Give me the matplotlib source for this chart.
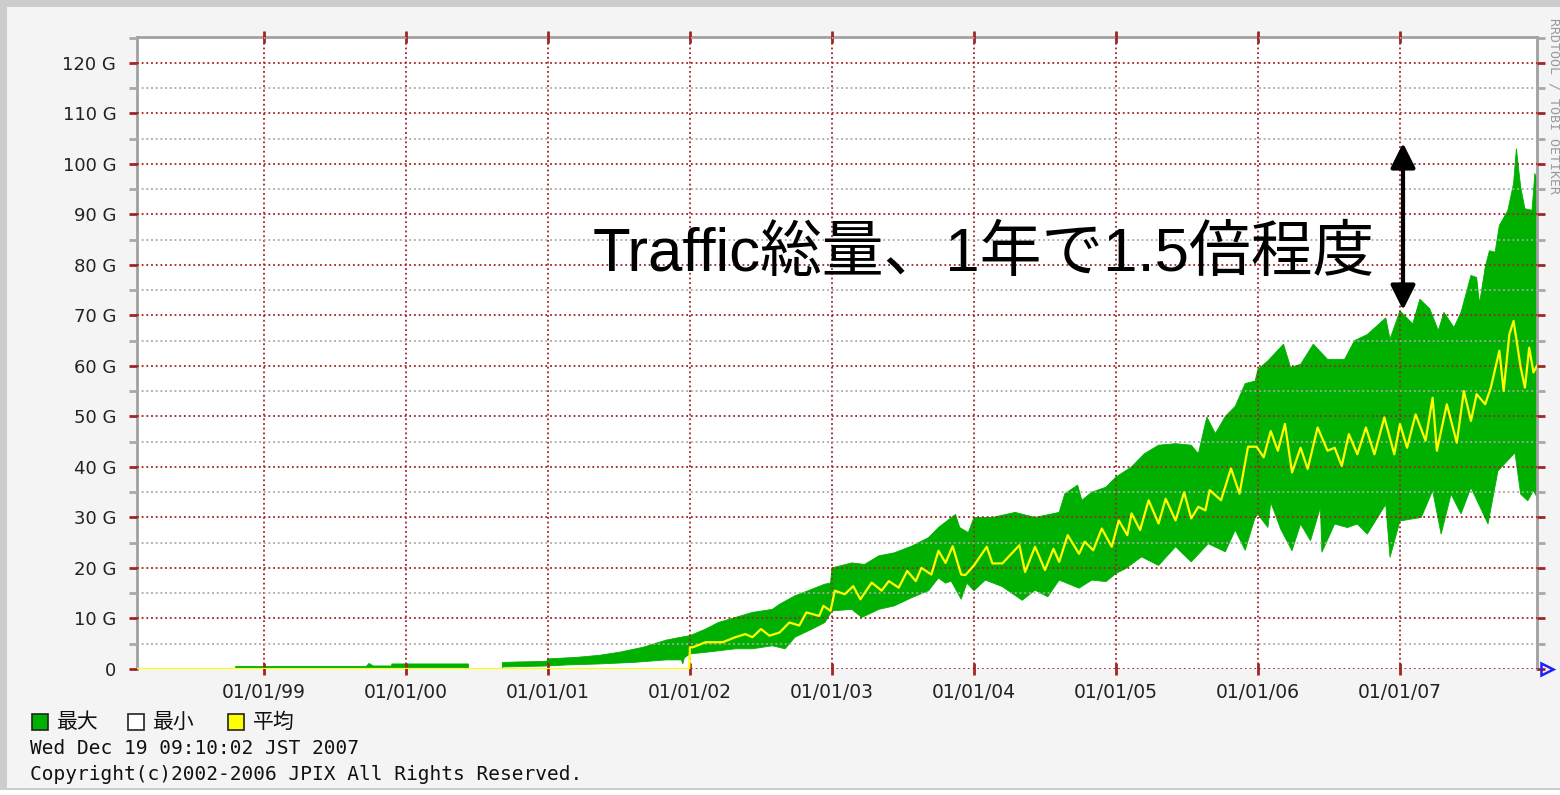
import numpy as np
import matplotlib
matplotlib.use("Agg")
import matplotlib.pyplot as plt
from matplotlib.patches import Rectangle, FancyArrowPatch
from matplotlib.ticker import MultipleLocator

# ---- data (x = decimal year, y = Gbps) ----
year_ticks = [1999, 2000, 2001, 2002, 2003, 2004, 2005, 2006, 2007]
year_labels = ["01/01/99", "01/01/00", "01/01/01", "01/01/02", "01/01/03",
               "01/01/04", "01/01/05", "01/01/06", "01/01/07"]

max_t = [1998.80, 1998.80, 1999.72, 1999.74, 1999.77, 1999.90, 1999.90, 2000.44, 2000.44, 2000.68,
         2000.68, 2000.80, 2000.99, 2001.00, 2001.20, 2001.36, 2001.50, 2001.67, 2001.83, 2001.92,
         2002.00, 2002.11, 2002.20, 2002.32, 2002.44, 2002.58, 2002.63, 2002.74, 2002.86, 2002.95,
         2002.99, 2003.00, 2003.14, 2003.23, 2003.33, 2003.44, 2003.56, 2003.68, 2003.75, 2003.87,
         2003.90, 2003.96, 2004.00, 2004.13, 2004.29, 2004.43, 2004.60, 2004.64, 2004.73, 2004.76,
         2004.83, 2004.93, 2005.00, 2005.11, 2005.20, 2005.30, 2005.42, 2005.53, 2005.58, 2005.64,
         2005.70, 2005.77, 2005.84, 2005.91, 2005.98, 2006.00, 2006.07, 2006.18, 2006.23, 2006.30,
         2006.39, 2006.49, 2006.61, 2006.68, 2006.77, 2006.90, 2006.93, 2007.00, 2007.09, 2007.14,
         2007.21, 2007.27, 2007.31, 2007.38, 2007.43, 2007.50, 2007.54, 2007.56, 2007.60, 2007.63,
         2007.67, 2007.70, 2007.76, 2007.80, 2007.82, 2007.85, 2007.88, 2007.93, 2007.95, 2007.965]
max_v = [0, 0.5, 0.5, 1.1, 0.6, 0.6, 1.0, 1.0, 0, 0,
         1.3, 1.4, 1.5, 2.0, 2.3, 2.7, 3.3, 4.3, 5.7, 6.2,
         6.6, 7.9, 9.2, 10.2, 11.2, 11.8, 12.8, 14.5, 15.8, 16.8,
         17.0, 20.0, 21.0, 20.7, 22.4, 23.0, 24.3, 26.0, 28.0, 30.6,
         28.0, 27.0, 30.0, 30.0, 31.0, 30.0, 31.0, 34.7, 36.4, 33.4,
         35.0, 36.0, 38.0, 40.0, 42.6, 44.3, 44.6, 44.3, 42.6, 49.9,
         46.6, 50.0, 52.0, 56.5, 57.0, 59.3, 61.0, 64.3, 59.7, 60.3,
         64.3, 61.3, 61.3, 65.0, 66.2, 69.5, 65.3, 70.9, 68.3, 73.2,
         71.3, 67.0, 70.6, 67.6, 70.6, 77.9, 77.5, 72.3, 79.5, 82.8,
         82.5, 87.8, 90.8, 96.1, 103.0, 95.4, 91.1, 90.8, 98.1, 96.8]

min_t = [1998.80, 2000.68, 2000.68, 2001.00, 2001.13, 2001.36, 2001.60, 2001.83, 2001.94, 2001.95,
         2001.96, 2002.00, 2002.11, 2002.20, 2002.32, 2002.44, 2002.58, 2002.67, 2002.74, 2002.86,
         2002.95, 2003.00, 2003.14, 2003.21, 2003.33, 2003.44, 2003.56, 2003.68, 2003.75, 2003.80,
         2003.84, 2003.91, 2003.95, 2004.00, 2004.08, 2004.20, 2004.34, 2004.43, 2004.52, 2004.60,
         2004.74, 2004.83, 2004.93, 2005.00, 2005.07, 2005.18, 2005.30, 2005.42, 2005.53, 2005.65,
         2005.77, 2005.84, 2005.91, 2005.98, 2006.00, 2006.07, 2006.09, 2006.16, 2006.24, 2006.30,
         2006.37, 2006.44, 2006.45, 2006.54, 2006.63, 2006.70, 2006.77, 2006.90, 2006.93, 2007.00,
         2007.15, 2007.23, 2007.29, 2007.36, 2007.43, 2007.50, 2007.62, 2007.69, 2007.81, 2007.85,
         2007.90, 2007.94, 2007.965]
min_v = [0, 0, 0.4, 0.6, 0.8, 1.0, 1.3, 1.8, 1.8, 1.0,
         2.2, 3.0, 3.3, 3.6, 4.0, 4.0, 4.6, 4.0, 6.3, 7.9,
         9.2, 11.5, 11.8, 10.2, 11.8, 12.5, 14.1, 15.5, 18.0, 17.0,
         17.4, 13.8, 17.0, 15.5, 17.6, 16.3, 13.6, 15.6, 14.3, 17.6,
         16.0, 17.6, 17.3, 18.9, 19.9, 22.2, 20.5, 24.2, 21.2, 24.8,
         23.2, 27.5, 23.5, 30.0, 30.6, 28.0, 33.0, 27.7, 23.4, 28.7,
         25.4, 32.0, 23.1, 28.7, 28.0, 28.7, 26.7, 32.6, 22.1, 29.3,
         30.0, 35.3, 26.7, 34.6, 30.7, 35.9, 28.7, 39.2, 42.8, 34.6,
         33.3, 35.3, 34.0]

avg_t = [1998.106, 2001.995, 2002.00, 2002.02, 2002.11, 2002.23, 2002.32, 2002.39, 2002.44, 2002.50,
         2002.56, 2002.63, 2002.70, 2002.77, 2002.82, 2002.91, 2002.94, 2002.99, 2003.02, 2003.09,
         2003.15, 2003.20, 2003.28, 2003.35, 2003.40, 2003.47, 2003.53, 2003.59, 2003.63, 2003.70,
         2003.75, 2003.80, 2003.85, 2003.91, 2003.94, 2004.00, 2004.09, 2004.13, 2004.20, 2004.32,
         2004.36, 2004.43, 2004.50, 2004.56, 2004.60, 2004.66, 2004.74, 2004.78, 2004.84, 2004.90,
         2004.97, 2005.02, 2005.08, 2005.11, 2005.17, 2005.23, 2005.30, 2005.35, 2005.42, 2005.48,
         2005.53, 2005.58, 2005.63, 2005.66, 2005.74, 2005.81, 2005.87, 2005.93, 2005.99, 2006.04,
         2006.09, 2006.14, 2006.19, 2006.24, 2006.30, 2006.35, 2006.42, 2006.49, 2006.54, 2006.59,
         2006.64, 2006.70, 2006.76, 2006.82, 2006.89, 2006.96, 2007.00, 2007.05, 2007.11, 2007.18,
         2007.23, 2007.26, 2007.33, 2007.40, 2007.45, 2007.50, 2007.54, 2007.60, 2007.64, 2007.70,
         2007.73, 2007.77, 2007.80, 2007.85, 2007.88, 2007.91, 2007.94, 2007.965]
avg_v = [0, 0, 4.3, 4.3, 5.3, 5.3, 6.3, 6.9, 6.3, 7.9,
         6.6, 7.2, 9.2, 8.6, 11.2, 10.5, 12.5, 11.5, 15.5, 14.8,
         16.4, 13.8, 17.1, 15.5, 17.4, 16.1, 19.4, 17.4, 20.0, 18.7,
         23.4, 21.0, 24.3, 18.7, 18.6, 20.5, 24.2, 20.9, 20.9, 24.5,
         19.2, 24.2, 19.6, 23.8, 21.2, 26.5, 22.8, 25.2, 23.5, 27.8,
         24.2, 29.4, 26.5, 30.8, 27.5, 33.4, 28.8, 33.7, 29.4, 35.0,
         29.8, 32.1, 31.4, 35.4, 33.4, 39.7, 34.7, 44.0, 44.0, 41.9,
         47.1, 43.2, 48.5, 38.9, 43.8, 39.6, 47.8, 43.2, 43.8, 40.2,
         46.5, 42.5, 47.8, 42.5, 49.8, 42.5, 48.5, 43.8, 50.4, 45.2,
         53.7, 43.2, 52.4, 44.8, 55.0, 49.1, 54.4, 52.4, 55.7, 63.0,
         55.0, 66.2, 68.9, 59.7, 55.7, 63.6, 58.7, 60.0]

y_ticks = list(range(0, 130, 10))
y_labels = ["0"] + ["%d G" % v for v in y_ticks[1:]]

legend_names = ["最大", "最小", "平均"]
legend_colors = ["#00b000", "#ffffff", "#ffff00"]

W, H = 1560, 795
RED = "#a02525"
GRAY = "#a8a8a8"
JP = ["Noto Sans CJK JP", "DejaVu Sans"]


def px(x, y):
    # pixel (from top-left) -> figure fraction
    return x / W, 1 - y / H


fig = plt.figure(figsize=(W / 100, H / 100), dpi=100, facecolor="white")

# frame like the original png
fig.add_artist(Rectangle(px(0, 790), 1, 790 / H, transform=fig.transFigure,
                         facecolor="#cdcdcd", edgecolor="none", zorder=-10))
fig.add_artist(Rectangle(px(7, 788), 1, 781 / H, transform=fig.transFigure,
                         facecolor="#f4f4f4", edgecolor="none", zorder=-9))

ax = fig.add_axes([137 / W, 1 - 669 / H, 1400 / W, 632 / H])
ax.set_facecolor("white")

ax.fill(np.r_[max_t, min_t[::-1]], np.r_[max_v, min_v[::-1]],
        color="#00b000", lw=0.6, zorder=1)
ax.plot(avg_t, avg_v, color="#ffff00", lw=1.6, zorder=3)

ax.set_xlim(1998.106, 2007.965)
ax.set_ylim(0, 125.1)

ax.set_xticks(year_ticks)
ax.set_xticklabels(year_labels)
ax.set_yticks(y_ticks)
ax.set_yticklabels(y_labels)
ax.yaxis.set_minor_locator(MultipleLocator(5))

ax.set_axisbelow(False)
ax.grid(which="major", color=RED, ls=(0, (1, 1.6)), lw=1.3)
ax.grid(which="minor", axis="y", color=GRAY, ls=(0, (1, 1.6)), lw=1.3)

ax.tick_params(axis="y", which="major", direction="out", length=6, width=2,
               color=RED, right=True, labelsize=13, labelcolor="#222222", pad=9)
ax.tick_params(axis="y", which="minor", direction="out", length=6, width=2,
               color=GRAY, right=True)
ax.tick_params(axis="x", which="major", direction="inout", length=8, width=2,
               color=RED, top=True, labelsize=13.5, labelcolor="#222222", pad=6)
for lab in ax.get_xticklabels() + ax.get_yticklabels():
    lab.set_family("DejaVu Sans")

for side in ["left", "top", "right"]:
    ax.spines[side].set_color("#a0a0a0")
    ax.spines[side].set_linewidth(2)
ax.spines["bottom"].set_visible(False)

# little blue arrow at the end of the time axis
ax.plot([1.007], [0], transform=ax.transAxes, marker=">", ms=9, mfc="none",
        mec="#2020ff", mew=1.8, clip_on=False, zorder=5)

# annotation
fig.text(593 / W, 1 - 271 / H, "Traffic総量、1年で1.5倍程度",
         family=["Liberation Sans", "Noto Sans CJK JP"], fontsize=44.5,
         color="black", ha="left", va="baseline")
arrow = FancyArrowPatch(px(1403, 143), px(1403, 310), transform=fig.transFigure,
                        arrowstyle="<|-|>,head_length=1.5,head_width=0.75",
                        mutation_scale=10, lw=3, color="black",
                        shrinkA=0, shrinkB=0)
fig.add_artist(arrow)

# rrdtool watermark
fig.text(1554 / W, 1 - 18 / H, "RRDTOOL / TOBI OETIKER", rotation=270,
         family="DejaVu Sans Mono", fontsize=9.5, color="#9a9a9a",
         ha="center", va="top")

# legend
lx = [32, 128, 228]
for x0, name, col in zip(lx, legend_names, legend_colors):
    fig.add_artist(Rectangle(px(x0, 730), 16 / W, 16 / H, transform=fig.transFigure,
                             facecolor=col, edgecolor="#222222", lw=1.2))
    fig.text((x0 + 25) / W, 1 - 722 / H, name, family=JP, fontsize=15,
             color="#111111", ha="left", va="center")

fig.text(30 / W, 1 - 748 / H, "Wed Dec 19 09:10:02 JST 2007",
         family="DejaVu Sans Mono", fontsize=14, color="#111111",
         ha="left", va="center")
fig.text(30 / W, 1 - 774 / H, "Copyright(c)2002-2006 JPIX All Rights Reserved.",
         family="DejaVu Sans Mono", fontsize=14, color="#111111",
         ha="left", va="center")

fig.savefig("out.png", dpi=100)
